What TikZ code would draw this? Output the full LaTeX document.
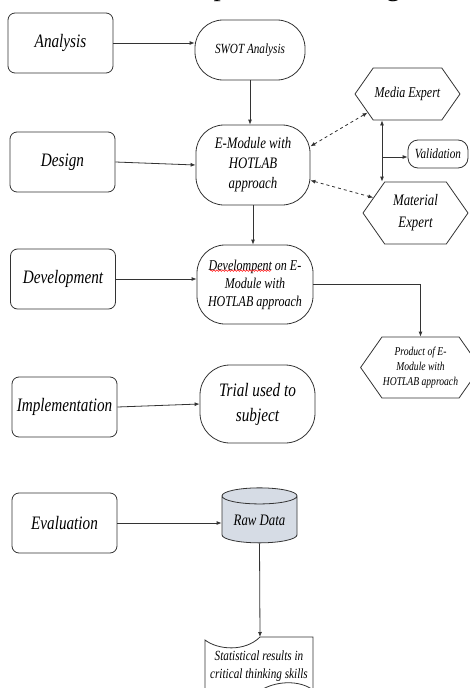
\documentclass[tikz,border=0pt]{standalone}
\usepackage{fontspec}
\setmainfont{Liberation Serif}
\newfontfamily\figfont[FakeStretch=0.8]{Liberation Serif}
\usetikzlibrary{arrows.meta,shapes.geometric,shapes.symbols,decorations.pathmorphing,calc}

\definecolor{linegrey}{HTML}{333333}
\definecolor{rawfill}{HTML}{D6DCE5}

\tikzset{
	stage/.style={draw=linegrey, rounded corners=7pt, minimum width=105pt,
		minimum height=60pt, align=center, font=\figfont\itshape\fontsize{19}{23}\selectfont},
	proc/.style={draw=linegrey, align=center, inner sep=2pt},
	hexa/.style={draw=linegrey, signal, signal to=west and east,
		signal pointer angle=110, align=center, inner sep=1pt},
	flow/.style={draw=linegrey, -{Latex[length=5pt,width=4pt]}},
	dflow/.style={draw=linegrey, dashed, {Latex[length=5pt,width=4pt]}-{Latex[length=5pt,width=4pt]}},
	bflow/.style={draw=linegrey, {Latex[length=5pt,width=4pt]}-{Latex[length=5pt,width=4pt]}}
}

\begin{document}
\begin{tikzpicture}[x=1pt,y=-1pt,line width=0.8pt]
		\useasboundingbox (0,0) rectangle (470,688);
		
		% running text of the page, cut at the top
		\node[anchor=base east, inner sep=0pt, font=\fontsize{29}{34}\selectfont] 
		(caption) at (467,-5) {ADDIE research is presented in Figure 1.};
		
		% stages on the left
		\node[stage] (analysis) at (60.5,43) {Analysis};
		\node[stage] (design) at (62.5,162) {Design};
		\node[stage] (devbox) at (63,279) {Development};
		\node[stage] (impl) at (64.5,407) {Implementation};
		\node[stage] (evalbox) at (64.5,523) {Evaluation};
		
		% middle column
		\node[proc, rounded corners=28pt, minimum width=110pt, minimum height=60pt,
		font=\figfont\itshape\fontsize{14}{17}\selectfont] 
		(swot) at (250,50) {SWOT Analysis};
		\node[proc, rounded corners=28pt, minimum width=114pt, minimum height=80pt,
		font=\figfont\itshape\fontsize{16}{20}\selectfont] 
		(emod) at (253,165) {E-Module with\\HOTLAB\\approach};
		\node[proc, rounded corners=28pt, minimum width=116pt, minimum height=79pt,
		font=\figfont\itshape\fontsize{15}{18}\selectfont] 
		(dev) at (255,284.5) {Develompent on E-\\Module with\\HOTLAB approach};
		\node[proc, rounded corners=30pt, minimum width=115pt, minimum height=78pt,
		font=\figfont\itshape\fontsize{19}{25}\selectfont] 
		(trial) at (257.5,404) {Trial used to\\subject};
		\node[cylinder, shape border rotate=90, aspect=0.3, draw=linegrey, fill=rawfill,
		minimum width=75pt, minimum height=55pt, inner sep=1pt,
		font=\figfont\itshape\fontsize{16}{19}\selectfont] 
		(raw) at (259.5,520.5) {Raw Data};
		\node[align=center, font=\figfont\itshape\fontsize{14}{18}\selectfont] 
		(stat) at (259,666) {Statistical results in\\critical thinking skills};
		
		% document outline of the results
		\draw[linegrey] (205,700) -- (205,640) .. controls (218,650) and (245,652) .. (260,637) 
		-- (313,637) -- (313,690) .. controls (300,680) and (275,680) .. (258,692);
		\coordinate (stattop) at (260,637);
		
		% experts on the right
		\node[hexa, minimum width=105pt, minimum height=52pt,
		font=\figfont\itshape\fontsize{15}{18}\selectfont] 
		(media) at (407.5,94) {Media Expert};
		\node[proc, rounded corners=10pt, minimum width=60pt, minimum height=28pt,
		font=\figfont\itshape\fontsize{14}{17}\selectfont] 
		(valid) at (438,154) {Validation};
		\node[hexa, minimum width=105pt, minimum height=62pt,
		font=\figfont\itshape\fontsize{16}{22}\selectfont] 
		(material) at (415.5,213) {Material\\Expert};
		\node[hexa, minimum width=101pt, minimum height=61pt,
		font=\figfont\itshape\fontsize{12}{15}\selectfont] 
		(product) at (420.5,367.5) {Product of E-\\Module with\\HOTLAB approach};
		
		% spelling mark under the misspelt word
		\draw[red, line width=0.5pt, decoration={snake,amplitude=0.8pt,segment length=3pt}, decorate] 
		($(dev.north)+(-45,26)$) -- ($(dev.north)+(16,26)$);
		
		% connectors
		\draw[flow] (analysis.east) -- (analysis.east -| swot.west);
		\draw[flow] (swot.south) -- (swot.south |- emod.north);
		\draw[flow] (design.east) -- (emod.west);
		\draw[flow] (emod.south) -- (emod.south |- dev.north);
		\draw[flow] (devbox.east) -- (devbox.east -| dev.west);
		\draw[flow] (dev.east) -| (product.north);
		\draw[flow] (impl.east) -- (trial.west);
		\draw[flow] (evalbox.east) -- (evalbox.east -| raw.west);
		\draw[flow] (raw.south) -- (stattop);
		
		\draw[dflow] (emod.18) -- (media.205);
		\draw[dflow] (emod.-15) -- (material.160);
		
		\coordinate (spine) at (382,157);
		\draw[bflow] (spine |- media.south) -- (spine |- material.north);
		\draw[flow] (spine) -- (spine -| valid.west);
	\end{tikzpicture}
\end{document}
